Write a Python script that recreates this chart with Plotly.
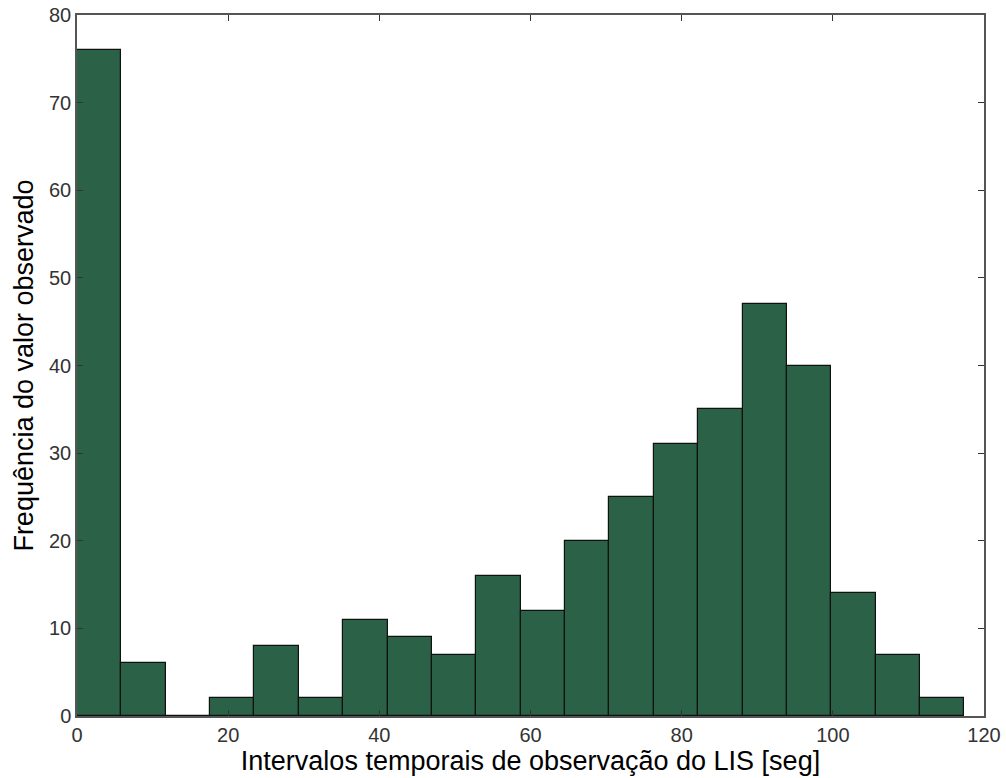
import plotly.graph_objects as go

bin_start = 0.0
bin_width = 5.87
counts = [76, 6, 0, 2, 8, 2, 11, 9, 7, 16, 12, 20, 25, 31, 35, 47, 40, 14, 7, 2]
x_ticks = [0, 20, 40, 60, 80, 100, 120]
y_ticks = [0, 10, 20, 30, 40, 50, 60, 70, 80]

centers = [bin_start + bin_width * (i + 0.5) for i in range(len(counts))]

FONT = "Arial, Liberation Sans, sans-serif"

fig = go.Figure()
fig.add_trace(go.Bar(
    x=centers, y=counts, width=bin_width,
    marker=dict(color="#2a6147", line=dict(color="#111111", width=1.2)),
))

axis_common = dict(
    showgrid=False, zeroline=False, showline=True, linecolor="#555555", linewidth=1.5,
    mirror="ticks", ticks="inside", ticklen=6, tickcolor="#333333", tickwidth=1,
    tickfont=dict(family=FONT, size=20, color="#333333"),
    automargin=False, ticklabeloverflow="allow",
)

fig.update_layout(
    width=1006, height=778,
    margin=dict(l=77, r=22, t=15, b=62),
    paper_bgcolor="white", plot_bgcolor="white",
    showlegend=False, bargap=0,
    xaxis=dict(range=[0, 120], tickvals=x_ticks,
               title=dict(text="Intervalos temporais de observação do LIS [seg]",
                          font=dict(family=FONT, size=27, color="black"),
                          standoff=4),
               **axis_common),
    yaxis=dict(range=[0, 80], tickvals=y_ticks,
               title=dict(text="Frequência do valor observado",
                          font=dict(family=FONT, size=27, color="black"),
                          standoff=8),
               **axis_common),
)

fig.write_html(
    "out.html",
    config={"displayModeBar": False},
    post_script="document.body.style.margin='0';document.body.style.overflow='hidden';",
)
